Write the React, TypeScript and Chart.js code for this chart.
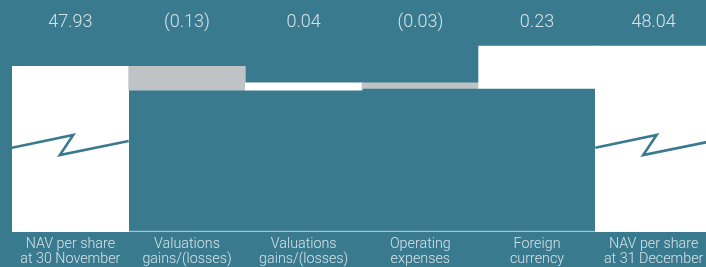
import React, { useEffect, useRef } from "react";
import { Chart, registerables } from "chart.js";

Chart.register(...registerables);

// ---- data ----
const categories: string[][] = [
  ["NAV per share", "at 30 November"],
  ["Valuations", "gains/(losses)"],
  ["Valuations", "gains/(losses)"],
  ["Operating", "expenses"],
  ["Foreign", "currency"],
  ["NAV per share", "at 31 December"],
];
const startNav = 47.93;
const changes = [-0.13, 0.04, -0.03, 0.23];
const endNav = 48.04;
const valueLabels = ["47.93", "(0.13)", "0.04", "(0.03)", "0.23", "48.04"];
const axisMin = 47.03;
const axisMax = 48.29;

// ---- styles ----
const BG = "#3a7a8f";
const WHITE = "#ffffff";
const GREY = "#c0c3c6";
const TEXT = "#d3e2e7";
const AXIS_LINE = "#a3c3cd";
const FONT = "Roboto, 'Noto Sans', sans-serif";
const X_AXIS_HEIGHT = 35;
// break marker: [x fraction of bar width, y fraction of chart area height]
const breakShape: [number, number][] = [
  [0, 0.637],
  [0.525, 0.582],
  [0.41, 0.668],
  [1.0, 0.608],
];

function buildRanges() {
  const ranges: [number, number][] = [];
  const colors: string[] = [];
  ranges.push([axisMin, startNav]);
  colors.push(WHITE);
  let level = startNav;
  for (const c of changes) {
    const next = level + c;
    ranges.push([Math.min(level, next), Math.max(level, next)]);
    colors.push(c < 0 ? GREY : WHITE);
    level = next;
  }
  ranges.push([axisMin, endNav]);
  colors.push(WHITE);
  return { ranges, colors };
}

const overlayPlugin = {
  id: "waterfallOverlay",
  beforeDatasetsDraw(chart: any) {
    const { ctx, chartArea } = chart;
    ctx.save();
    ctx.fillStyle = AXIS_LINE;
    ctx.fillRect(chartArea.left, chartArea.bottom - 1.2, chartArea.right - chartArea.left, 1.2);
    ctx.restore();
  },
  afterDatasetsDraw(chart: any) {
    const { ctx, chartArea } = chart;
    const meta = chart.getDatasetMeta(0);
    const h = chartArea.bottom - chartArea.top;
    ctx.save();
    ctx.strokeStyle = BG;
    ctx.lineWidth = 2.6;
    ctx.lineJoin = "miter";
    [0, meta.data.length - 1].forEach((i) => {
      const el = meta.data[i];
      const left = el.x - el.width / 2;
      ctx.beginPath();
      breakShape.forEach(([fx, fy], k) => {
        const px = left + fx * el.width;
        const py = chartArea.top + fy * h;
        if (k === 0) ctx.moveTo(px, py);
        else ctx.lineTo(px, py);
      });
      ctx.stroke();
    });
    ctx.restore();
  },
  afterDraw(chart: any) {
    const { ctx } = chart;
    const xs = chart.scales.x;
    ctx.save();
    ctx.fillStyle = TEXT;
    ctx.font = `300 18px ${FONT}`;
    ctx.textAlign = "center";
    ctx.textBaseline = "middle";
    valueLabels.forEach((t, i) => {
      ctx.fillText(t, xs.getPixelForValue(i), 22);
    });
    ctx.restore();
  },
};

export default function App() {
  const ref = useRef<HTMLCanvasElement | null>(null);
  useEffect(() => {
    document.body.style.margin = "0";
    document.body.style.overflow = "hidden";
    const { ranges, colors } = buildRanges();
    const chart = new Chart(ref.current!, {
      type: "bar",
      data: {
        labels: categories,
        datasets: [
          {
            data: ranges as any,
            backgroundColor: colors,
            borderWidth: 0,
            barPercentage: 1,
            categoryPercentage: 1,
          },
        ],
      },
      options: {
        animation: false,
        responsive: false,
        devicePixelRatio: 1,
        layout: { padding: { left: 12, right: 0, top: 0, bottom: 0 } },
        plugins: { legend: { display: false }, tooltip: { enabled: false } },
        scales: {
          x: {
            grid: { display: false, drawTicks: false },
            border: { display: false },
            afterFit: (scale: any) => {
              scale.height = X_AXIS_HEIGHT;
            },
            ticks: {
              color: TEXT,
              padding: 5,
              maxRotation: 0,
              autoSkip: false,
              font: { family: FONT, size: 14.3, weight: 300 as any, lineHeight: 1.05 },
            },
          },
          y: {
            display: false,
            min: axisMin,
            max: axisMax,
          },
        },
      },
      plugins: [overlayPlugin],
    });
    return () => chart.destroy();
  }, []);
  return (
    <div style={{ width: 706, height: 267, overflow: "hidden", background: BG }}>
      <canvas ref={ref} width={712} height={267} style={{ display: "block" }} />
    </div>
  );
}
